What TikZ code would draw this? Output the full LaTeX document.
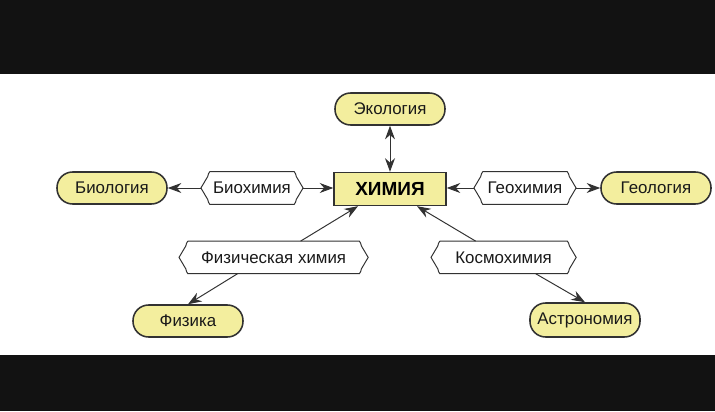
\documentclass[tikz,border=0pt]{standalone}
\usepackage{fontspec}
\setmainfont{Liberation Sans}
\usetikzlibrary{arrows.meta}
\definecolor{boxyellow}{RGB}{243,238,158}
\definecolor{inkgray}{RGB}{50,50,50}
\tikzset{
  field/.style={draw=inkgray,line width=1.1pt,fill=boxyellow,rounded corners=0.39cm,
    minimum width=2.75cm,minimum height=0.8cm,inner sep=1pt,text=black!90},
  tagbox/.style={minimum height=0.8cm,inner sep=1pt,text=black!90},
  tagline/.style={draw=inkgray,line width=0.7pt},
  link/.style={draw=inkgray,line width=0.7pt,->}
}
\begin{document}
\begin{tikzpicture}[font=\fontsize{12}{14}\selectfont,>={Stealth[length=3.4mm,width=2.5mm]}]
        \useasboundingbox (0,0) rectangle (17.875,10.275);
        \fill[black!93] (0,8.425) rectangle (17.875,10.275);
        \fill[black!93] (0,0) rectangle (17.875,1.4);

        \node[draw=inkgray,line width=1pt,fill=boxyellow,minimum width=2.8cm,minimum height=0.825cm,
          font=\fontsize{13.5}{16}\selectfont\bfseries] (him) at (9.75,5.55) {ХИМИЯ};

        \begin{scope}[every node/.style={field}]
          \node (eko) at (9.75,7.55)   {Экология};
          \node (bio) at (2.8,5.575)   {Биология};
          \node (geo) at (16.4,5.575)  {Геология};
          \node (fiz) at (4.7,2.25)    {Физика};
          \node[minimum height=0.85cm] (ast) at (14.625,2.275) {Астрономия};
        \end{scope}

        \begin{scope}[every node/.style={tagbox}]
          \node[minimum width=2.1cm]   (bch) at (6.3,5.575)    {Биохимия};
          \node[minimum width=2.1cm]   (gch) at (13.125,5.575) {Геохимия};
          \node[minimum width=4.275cm] (fch) at (6.84,3.84)  {Физическая химия};
          \node[minimum width=3.175cm] (kch) at (12.59,3.84) {Космохимия};
        \end{scope}

        \foreach \n in {bch,gch,fch,kch}
          \draw[tagline] (\n.north west) -- (\n.north east)
            to[out=-30,in=120] ([xshift=0.05cm,yshift=-0.12cm]\n.north east) -- ([xshift=0.22cm]\n.east)
            -- ([xshift=0.05cm,yshift=0.12cm]\n.south east) to[out=-120,in=30] (\n.south east)
            -- (\n.south west)
            to[out=150,in=-60] ([xshift=-0.05cm,yshift=0.12cm]\n.south west) -- ([xshift=-0.22cm]\n.west)
            -- ([xshift=-0.05cm,yshift=-0.12cm]\n.north west) to[out=60,in=210] (\n.north west);

        \draw[link,<->] (eko) -- (him);
        \draw[link] ([xshift=-0.22cm]bch.west) -- (bio);
        \draw[link] ([xshift=0.22cm]bch.east) -- (bch.east -| him.west);
        \draw[link] ([xshift=-0.22cm]gch.west) -- (gch.west -| him.east);
        \draw[link] ([xshift=0.22cm]gch.east) -- (geo);
        \draw[link] ([xshift=0.675cm]fch.north) -- ([xshift=-0.8cm]him.south);
        \draw[link] ([xshift=-0.9cm]fch.south) -- (fiz.north);
        \draw[link] ([xshift=-0.7cm]kch.north) -- ([xshift=0.675cm]him.south);
        \draw[link] ([xshift=0.8cm]kch.south) -- (ast.north);

      \end{tikzpicture}
\end{document}
